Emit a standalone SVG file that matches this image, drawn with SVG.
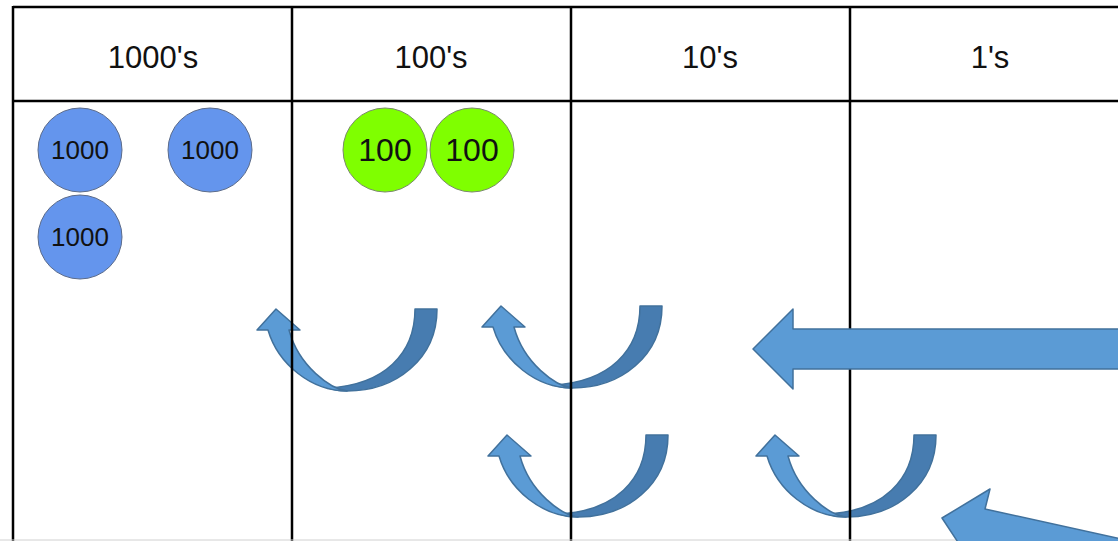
<svg xmlns="http://www.w3.org/2000/svg" width="1118" height="541" viewBox="0 0 1118 541">
  <style>
    .hdr { font-family: "Liberation Sans", Arial, sans-serif; font-size: 31px; fill: #111; text-anchor: middle; }
    .grid { stroke: #000; stroke-width: 2.5; fill: none; }
    .k1000 { fill: #6495ed; stroke: #5b6b8a; stroke-width: 1; }
    .k100 { fill: #7fff00; stroke: #7a8a6a; stroke-width: 1; }
    .t1000 { font-family: "Liberation Sans", Arial, sans-serif; font-size: 26px; fill: #111; text-anchor: middle; }
    .t100 { font-family: "Liberation Sans", Arial, sans-serif; font-size: 32px; fill: #111; text-anchor: middle; }
    .light { fill: #5b9bd5; stroke: #41719c; stroke-width: 1.5; stroke-linejoin: round; }
    .dark { fill: #477cb0; stroke: #41719c; stroke-width: 1.5; stroke-linejoin: round; }
  </style>
  <defs>
    <!-- U-turn arrow, tip of the arrowhead at the origin -->
    <g id="uturn">
      <path class="dark" d="M139,0 L161,0 C161,50 120,82 71,82 C64,82 58,81 52,79 C108,76 139,45 139,0 Z"/>
      <path class="light" d="M-8,21 C2,55 35,82 71,82 C55,80 23,58 13,21 L24,21 L0,0 L-19,21 Z"/>
    </g>
  </defs>

  <rect width="1118" height="541" fill="#fff"/>

  <!-- curved carry arrows (beneath the grid) -->
  <g id="curved-arrows">
    <use href="#uturn" x="276" y="309"/>
    <use href="#uturn" x="501" y="306"/>
    <use href="#uturn" x="507" y="435"/>
    <use href="#uturn" x="775" y="435"/>
  </g>

  <!-- place value table -->
  <g id="table">
    <line class="grid" x1="13" y1="7" x2="1120" y2="7"/>
    <line class="grid" x1="13" y1="101" x2="1120" y2="101"/>
    <line class="grid" x1="13" y1="6" x2="13" y2="545"/>
    <line class="grid" x1="292" y1="6" x2="292" y2="545"/>
    <line class="grid" x1="571" y1="6" x2="571" y2="545"/>
    <line class="grid" x1="850" y1="6" x2="850" y2="545"/>
    <line x1="0" y1="540" x2="1118" y2="540" stroke="#d0d0d0" stroke-width="1"/>
    <text class="hdr" x="153" y="68">1000's</text>
    <text class="hdr" x="431" y="68">100's</text>
    <text class="hdr" x="710" y="68">10's</text>
    <text class="hdr" x="990" y="68">1's</text>
  </g>

  <!-- counters -->
  <g id="th1"><circle class="k1000" cx="80" cy="150" r="42"/><text class="t1000" x="80" y="159">1000</text></g>
  <g id="th2"><circle class="k1000" cx="210" cy="150" r="42"/><text class="t1000" x="210" y="159">1000</text></g>
  <g id="th3"><circle class="k1000" cx="80" cy="237" r="42"/><text class="t1000" x="80" y="246">1000</text></g>
  <g id="h1"><circle class="k100" cx="385" cy="150" r="42"/><text class="t100" x="385" y="161">100</text></g>
  <g id="h2"><circle class="k100" cx="472" cy="150" r="42"/><text class="t100" x="472" y="161">100</text></g>

  <!-- straight arrows (over the grid) -->
  <g id="straight-arrows">
    <polygon class="light" points="753,349 793,309 793,329 1125,329 1125,369 793,369 793,389"/>
    <polygon class="light" points="942,518 990,489 985,509 1180,552 1172,587 977,544 973,565"/>
  </g>
</svg>
